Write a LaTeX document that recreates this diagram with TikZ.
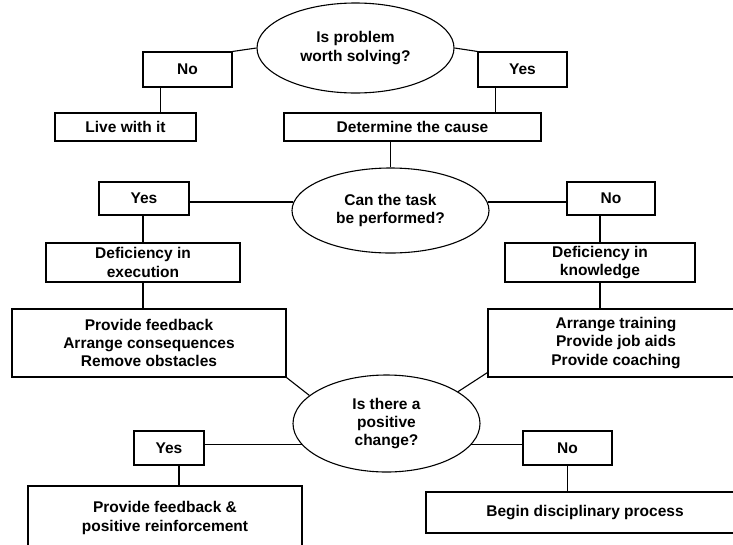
\documentclass[tikz,border=0pt]{standalone}
\usepackage{fontspec}
\setmainfont{Liberation Sans}
\usetikzlibrary{shapes.geometric,calc}
\begin{document}
\begin{tikzpicture}[x=1pt,y=-1pt,line width=1.1pt,
  every node/.style={font=\fontsize{15.5}{18.3}\selectfont\bfseries, align=center, inner sep=0pt, line width=1.1pt},
  box/.style={draw, rectangle},
  ell/.style={draw, ellipse}]
\useasboundingbox (0,0) rectangle (733,544);
% decisions
\node[ell, minimum width=197pt, minimum height=90pt] (e1) at (355.5,48) {Is problem\\worth solving?};
\node[ell, minimum width=197pt, minimum height=85pt] (e2) at (390.5,210.5) {Can the task\\be performed?};
\node[ell, minimum width=187pt, minimum height=97pt] (e3) at (386.5,423.5) {Is there a\\positive\\change?};
% boxes
\node[box, minimum width=89pt, minimum height=35pt] (no1) at (187.5,69.5) {No};
\node[box, minimum width=141pt, minimum height=28pt] (live) at (125.5,127) {Live with it};
\node[box, minimum width=89pt, minimum height=35pt] (yes1) at (522.5,69.5) {Yes};
\node[box, minimum width=257pt, minimum height=28pt] (cause) at (412.5,127) {Determine the cause};
\node[box, minimum width=90pt, minimum height=33pt] (yes2) at (144,198.5) {Yes};
\node[box, minimum width=88pt, minimum height=33pt] (no2) at (611,198.5) {No};
\node[box, minimum width=194pt, minimum height=39pt] (defex) at (143,262.5) {Deficiency in\\execution};
\node[box, minimum width=190pt, minimum height=39pt] (defkn) at (600,262.5) {Deficiency in\\knowledge};
\node[box, minimum width=274pt, minimum height=68pt] (fb) at (149,343) {Provide feedback\\Arrange consequences\\Remove obstacles};
\node[box, minimum width=256pt, minimum height=68pt] (tr) at (616,343) {Arrange training\\Provide job aids\\Provide coaching};
\node[box, minimum width=70pt, minimum height=34pt] (yes3) at (169,448) {Yes};
\node[box, minimum width=89pt, minimum height=34pt] (no3) at (567.5,448) {No};
\node[box, minimum width=274pt, minimum height=64pt] (pfr) at (165,518) {Provide feedback \&\\positive reinforcement};
\node[box, minimum width=318pt, minimum height=41pt] (bdp) at (585,512.5) {Begin disciplinary process};
% connectors
\draw (no1.north east) -- (e1.west);
\draw (yes1.north west) -- (e1.east);
\coordinate (n1b) at ($(no1.south west)+(18,0)$);
\draw (n1b) -- (n1b |- live.north);
\coordinate (y1b) at ($(yes1.south west)+(18,0)$);
\draw (y1b) -- (y1b |- cause.north);
\draw (e2.north |- cause.south) -- (e2.north);
\draw (e2.175) -- (e2.175 -| yes2.east);
\draw (e2.5) -- (e2.5 -| no2.west);
\draw (defex.north) -- (defex.north |- yes2.south);
\draw (defex.south) -- (defex.south |- fb.north);
\draw (defkn.north) -- (defkn.north |- no2.south);
\draw (defkn.south) -- (defkn.south |- tr.north);
\draw (fb.south east) -- (e3.160);
\coordinate (trl) at ($(tr.south west)+(0,-5)$);
\draw (trl) -- (e3.24);
\draw (e3.194) -- (e3.194 -| yes3.east);
\draw (e3.346) -- (e3.346 -| no3.west);
\coordinate (y3b) at ($(yes3.south)+(10,0)$);
\draw (y3b) -- (y3b |- pfr.north);
\draw (no3.south) -- (no3.south |- bdp.north);
\end{tikzpicture}
\end{document}
